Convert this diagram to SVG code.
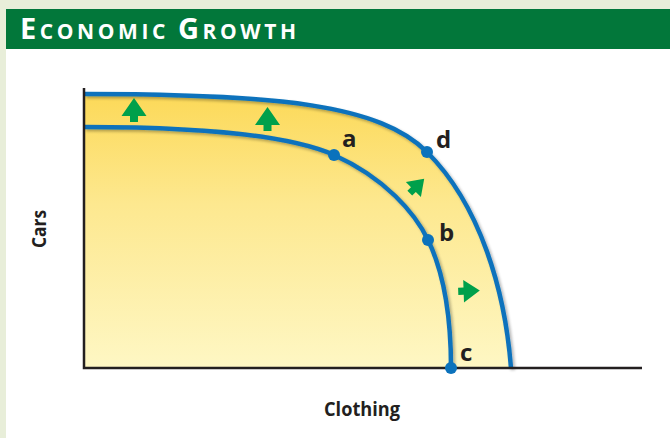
<svg xmlns="http://www.w3.org/2000/svg" width="670" height="438" viewBox="0 0 670 438">
  <style>
    .curve { fill: none; stroke: #0b72bc; stroke-width: 4.5; }
    .dot { fill: #0b72bc; }
    .arrow { fill: #00a04b; }
    .lbl { font-family: "Open Sans", "Liberation Sans", sans-serif; font-weight: bold; font-size: 24px; fill: #231f20; }
    .axislbl { font-family: "Open Sans", "Liberation Sans", sans-serif; font-weight: bold; font-size: 19px; fill: #231f20; }
    .title { font-family: "Open Sans", "Liberation Sans", sans-serif; font-weight: bold; fill: #ffffff; }
  </style>
  <defs>
    <linearGradient id="fillGrad" x1="0" y1="0" x2="0" y2="1">
      <stop offset="0" stop-color="#fcd958"/>
      <stop offset="0.4" stop-color="#fde88f"/>
      <stop offset="1" stop-color="#fef7c4"/>
    </linearGradient>
    <filter id="shadow" x="-10%" y="-10%" width="120%" height="120%">
      <feGaussianBlur in="SourceAlpha" stdDeviation="1.5"/>
      <feOffset dx="1.5" dy="2" result="b"/>
      <feComponentTransfer><feFuncA type="linear" slope="0.3"/></feComponentTransfer>
      <feMerge><feMergeNode/><feMergeNode in="SourceGraphic"/></feMerge>
    </filter>
    <polygon id="arr" points="0,-12 12.5,6 4,6 4,12 -4,12 -4,6 -12.5,6"/>
  </defs>

  <!-- background -->
  <rect x="0" y="0" width="670" height="438" fill="#e8eed9"/>
  <rect x="6" y="49" width="664" height="389" fill="#ffffff"/>
  <rect id="header" x="6" y="9" width="664" height="40" fill="#02773a"/>
  <text class="title" x="20" y="39" textLength="276" lengthAdjust="spacing"><tspan font-size="29">E</tspan><tspan font-size="21">CONOMIC </tspan><tspan font-size="29">G</tspan><tspan font-size="21">ROWTH</tspan></text>

  <!-- filled regions -->
  <path d="M84,94 C280,94 380,105 427,152 C480,205 505,290 511,368 L84,368 Z" fill="url(#fillGrad)"/>

  <g id="connectors">
    <path id="ppf-outer" class="curve" filter="url(#shadow)" d="M84,94 C280,94 380,105 427,152 C480,205 505,290 511,368"/>
    <path id="ppf-inner" class="curve" filter="url(#shadow)" d="M84,127 C230,127 300,140 334,155 C385,178 415,213 428,240 C445,275 451,320 451,368"/>
    <path id="axes" d="M84,88 V368 H642" fill="none" stroke="#231f20" stroke-width="2.5"/>
  </g>

  <g id="arrows">
    <use href="#arr" class="arrow" transform="translate(134,110)"/>
    <use href="#arr" class="arrow" transform="translate(267.5,119)"/>
    <use href="#arr" class="arrow" transform="translate(417,186) rotate(45) scale(0.85)"/>
    <use href="#arr" class="arrow" transform="translate(469,291) rotate(88) scale(0.9)"/>
  </g>

  <g id="point-a">
    <circle class="dot" cx="334" cy="155" r="6"/>
    <text class="lbl" x="342" y="147">a</text>
  </g>
  <g id="point-d">
    <circle class="dot" cx="427" cy="152" r="6"/>
    <text class="lbl" x="436" y="148">d</text>
  </g>
  <g id="point-b">
    <circle class="dot" cx="428" cy="240" r="6"/>
    <text class="lbl" x="439" y="241">b</text>
  </g>
  <g id="point-c">
    <circle class="dot" cx="451" cy="368" r="6"/>
    <text class="lbl" x="460" y="361">c</text>
  </g>

  <text class="axislbl" transform="translate(46,229) rotate(-90)" text-anchor="middle" textLength="38" lengthAdjust="spacingAndGlyphs">Cars</text>
  <text class="axislbl" x="362" y="416" text-anchor="middle" font-size="20" textLength="76" lengthAdjust="spacingAndGlyphs">Clothing</text>
</svg>
